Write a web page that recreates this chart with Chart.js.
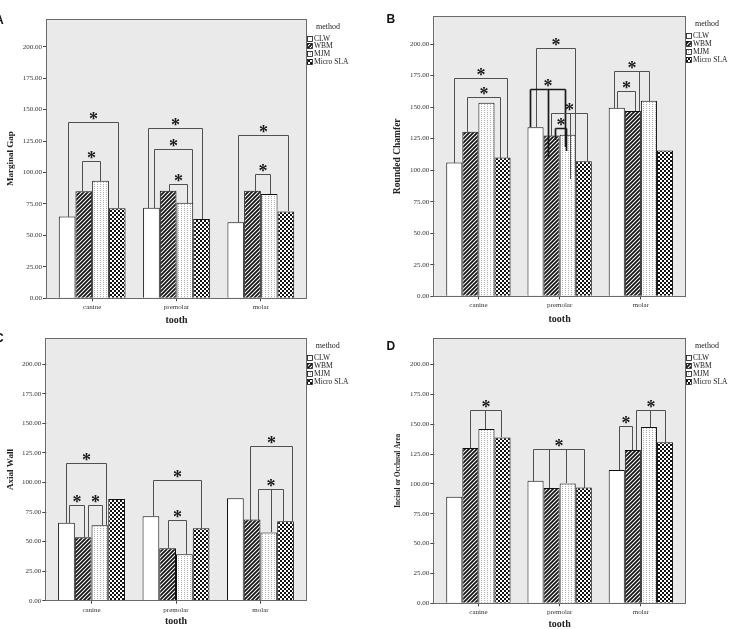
<!DOCTYPE html>
<html><head><meta charset="utf-8">
<script src="https://cdn.jsdelivr.net/npm/chart.js@4.4.1/dist/chart.umd.min.js"></script>
<style>
body{margin:0;background:#fff;width:732px;height:629px;position:relative;overflow:hidden}
.p{position:absolute}
canvas{display:block}
</style></head><body>
<div class="p" style="left:0;top:0"><canvas id="cA" width="366" height="328"></canvas></div>
<div class="p" style="left:366px;top:0"><canvas id="cB" width="366" height="328"></canvas></div>
<div class="p" style="left:0;top:328px"><canvas id="cC" width="366" height="301"></canvas></div>
<div class="p" style="left:366px;top:328px"><canvas id="cD" width="366" height="301"></canvas></div>
<script>
// ---------- data ----------
const categories = ['canine', 'premolar', 'molar'];
const methods = ['CLW', 'WBM', 'MJM', 'Micro SLA'];
const yTicks = [0, 25, 50, 75, 100, 125, 150, 175, 200];
const yMax = 222;

const marginalGapCLW   = [65, 72, 60.5];
const marginalGapWBM   = [85, 85.5, 85.5];
const marginalGapMJM   = [93.5, 76, 83];
const marginalGapMicro = [71.5, 63, 69];

const roundedChamferCLW   = [106, 134, 149.5];
const roundedChamferWBM   = [130.5, 127.5, 147];
const roundedChamferMJM   = [153.5, 128, 155];
const roundedChamferMicro = [110, 107, 115.5];

const axialWallCLW   = [66, 71.4, 86.6];
const axialWallWBM   = [53.6, 44.3, 68.6];
const axialWallMJM   = [63.8, 39.2, 57.8];
const axialWallMicro = [86, 61.2, 67.2];

const incisalCLW   = [89.2, 102.6, 111.6];
const incisalWBM   = [130, 96.5, 128.4];
const incisalMJM   = [146, 100.4, 147.7];
const incisalMicro = [139, 97, 135];

// significance brackets: [category, leg positions (series index units), bracket value, leg end values]
const marginalGapSig = [
  [0, [0.08, 3.06], 140.2, [65, 71.5]],
  [0, [0.9, 1.95], 109.2, [85, 93.5]],
  [1, [-0.2, 3.04], 135.7, [72, 63]],
  [1, [0.14, 2.42], 119, [72, 76]],
  [1, [1.04, 2.1], 91, [85.5, 76]],
  [2, [0.12, 3.14], 129.6, [60.5, 69]],
  [2, [1.16, 2.02], 98.6, [85.5, 83]]
];
const roundedChamferSig = [
  [0, [0, 3.26], 173.3, [106, 110]],
  [0, [0.81, 2.87], 158, [130.5, 110]],
  [1, [0.06, 2.46], 196.8, [134, 95]],
  [1, [-0.33, 0.75, 1.81], 164, [134, 110, 118]],
  [1, [0.98, 2.15, 3.21], 145.7, [127, 93, 107]],
  [1, [1.19, 1.9], 133.5, [124, 115]],
  [2, [-0.17, 1.41, 1.98], 179, [149.5, 147, 155]],
  [2, [0, 1.14], 163, [149.5, 147]]
];
const axialWallSig = [
  [0, [0, 2.35], 116.8, [66, 63.8]],
  [0, [0.18, 1.04], 81.3, [66, 53.6]],
  [0, [1.3, 2.15], 81.3, [53.6, 63.8]],
  [1, [0.12, 2.99], 101.9, [71.4, 61.2]],
  [1, [1.05, 2.1], 68, [44.3, 39.2]],
  [2, [0.9, 3.4], 131.2, [68.6, 67.2]],
  [2, [1.35, 2.1, 2.85], 94.2, [68.6, 57.8, 67.2]]
];
const incisalSig = [
  [0, [1.0, 1.9, 2.9], 161.9, [130, 146, 139]],
  [1, [-0.15, 0.85, 1.9, 3.0], 129.2, [102.6, 96.5, 100.4, 97]],
  [2, [0.17, 0.94], 148.5, [111.6, 128.4]],
  [2, [1.17, 2.04, 3.0], 161.9, [128.4, 147.7, 135]]
];

// ---------- patterns ----------
function makePattern(kind) {
  const c = document.createElement('canvas');
  const g = c.getContext('2d');
  if (kind === 'white') { c.width = 2; c.height = 2; g.fillStyle = '#fff'; g.fillRect(0,0,2,2); }
  else if (kind === 'stripe') {
    c.width = 4; c.height = 4;
    g.fillStyle = '#fff'; g.fillRect(0,0,4,4);
    g.strokeStyle = '#151515'; g.lineWidth = 1.8; g.lineCap = 'square';
    g.beginPath();
    g.moveTo(0,4); g.lineTo(4,0);
    g.moveTo(-1,1); g.lineTo(1,-1);
    g.moveTo(3,5); g.lineTo(5,3);
    g.stroke();
  } else if (kind === 'dots') {
    c.width = 3; c.height = 2;
    g.fillStyle = '#fff'; g.fillRect(0,0,3,2);
    g.fillStyle = '#b0b0b0'; g.fillRect(1,0,1,1);
  } else {
    c.width = 4; c.height = 4;
    g.fillStyle = '#fff'; g.fillRect(0,0,4,4);
    g.fillStyle = '#111'; g.fillRect(0,0,2,2); g.fillRect(2,2,2,2);
  }
  return document.createElement('canvas').getContext('2d').createPattern(c, 'repeat');
}
const fills = [makePattern('white'), makePattern('stripe'), makePattern('dots'), makePattern('check')];

// ---------- panels ----------
const panels = [
  { id: 'cA', letter: 'A', title: 'Marginal Gap',
    series: [marginalGapCLW, marginalGapWBM, marginalGapMJM, marginalGapMicro],
    sig: marginalGapSig, bold: [],
    L: { W: 366, plotL: 47, plotR: 306, E: 3, padTop: 19, xH: 29.7, yTitlePad: 6.5, yTitleSize: 9, xTitlePad: 3, letterX: -5, letterY: 24 } },
  { id: 'cB', letter: 'B', title: 'Rounded Chamfer',
    series: [roundedChamferCLW, roundedChamferWBM, roundedChamferMJM, roundedChamferMicro],
    sig: roundedChamferSig, bold: [3, 5],
    L: { W: 366, plotL: 68.3, plotR: 319, E: 3.5, padTop: 16.3, xH: 31.7, yTitlePad: 27, yTitleSize: 9.5, xTitlePad: 3.5, letterX: 20.5, letterY: 23 } },
  { id: 'cC', letter: 'C', title: 'Axial Wall',
    series: [axialWallCLW, axialWallWBM, axialWallMJM, axialWallMicro],
    sig: axialWallSig, bold: [],
    L: { W: 366, plotL: 46.3, plotR: 305.7, E: 3, padTop: 10.3, xH: 28.3, yTitlePad: 6.5, yTitleSize: 9, xTitlePad: 2.3, letterX: -5, letterY: 14 } },
  { id: 'cD', letter: 'D', title: 'Incisal or Occlusal Area',
    series: [incisalCLW, incisalWBM, incisalMJM, incisalMicro],
    sig: incisalSig, bold: [],
    L: { W: 366, plotL: 68.3, plotR: 319, E: 3.5, padTop: 10.3, xH: 25.7, yTitlePad: 29, yTitleSize: 7.2, xTitlePad: 0, letterX: 20.5, letterY: 22 } }
];

function decorPlugin(P) {
  const E = P.L.E;
  return {
    id: 'decor',
    beforeDatasetsDraw(chart) {
      const { ctx, chartArea: a } = chart;
      ctx.save();
      ctx.fillStyle = '#EAEAEA';
      ctx.fillRect(a.left - E, a.top, a.right - a.left + 2 * E, a.bottom - a.top);
      ctx.restore();
    },
    afterDatasetsDraw(chart) {
      const { ctx, chartArea: a } = chart;
      const ys = chart.scales.y;
      ctx.save();
      P.sig.forEach((b, k) => {
        const [cat, legs, yv, ends] = b;
        const m0 = chart.getDatasetMeta(0).data[cat];
        const m1 = chart.getDatasetMeta(1).data[cat];
        const sp = m1.x - m0.x;
        const xs = legs.map(s => Math.round(m0.x + s * sp) + 0.5);
        const yl = Math.round(ys.getPixelForValue(yv)) + 0.5;
        const bold = P.bold.includes(k);
        ctx.strokeStyle = bold ? '#1a1a1a' : '#505050';
        ctx.lineWidth = bold ? 1.7 : 1;
        ctx.beginPath();
        ctx.moveTo(xs[0], yl); ctx.lineTo(xs[xs.length - 1], yl);
        xs.forEach((x, i) => { ctx.moveTo(x, yl); ctx.lineTo(x, Math.round(ys.getPixelForValue(ends[i]))); });
        ctx.stroke();
        ctx.fillStyle = '#1a1a1a';
        ctx.font = 'bold 18px "Liberation Serif"';
        ctx.textAlign = 'center';
        ctx.textBaseline = 'alphabetic';
        ctx.fillText('*', (xs[0] + xs[xs.length - 1]) / 2, yl + 2);
      });
      ctx.strokeStyle = '#6a6a6a';
      ctx.lineWidth = 1;
      const l = Math.round(a.left - E) - 0.5, r = Math.round(a.right + E) + 0.5;
      ctx.strokeRect(l, Math.round(a.top) + 0.5, r - l, Math.round(a.bottom - a.top));
      ctx.restore();
    },
    afterDraw(chart) {
      const { ctx, chartArea: a } = chart;
      const right = a.right + E;
      ctx.save();
      ctx.fillStyle = '#222';
      ctx.textBaseline = 'middle';
      ctx.textAlign = 'left';
      ctx.font = '8px "Liberation Serif"';
      ctx.fillText('method', right + 10, a.top + 8);
      ctx.font = '7.5px "Liberation Serif"';
      methods.forEach((m, i) => {
        const cy = Math.round(a.top + 19.5 + 7.9 * i);
        const bx = Math.round(right) + 1;
        ctx.fillStyle = fills[i];
        ctx.fillRect(bx, cy - 3, 5, 5);
        ctx.strokeStyle = '#111'; ctx.lineWidth = 0.8;
        ctx.strokeRect(bx + 0.5, cy - 2.5, 5, 5);
        ctx.fillStyle = '#222';
        ctx.fillText(m, bx + 7, cy);
      });
      ctx.font = 'bold 12px "Liberation Sans"';
      ctx.fillStyle = '#111';
      ctx.textBaseline = 'alphabetic';
      ctx.fillText(P.letter, P.L.letterX, P.L.letterY);
      ctx.restore();
    }
  };
}

panels.forEach(P => {
  const L = P.L;
  const yW = L.plotL + L.E;
  const padRight = L.W - L.plotR + L.E;
  new Chart(document.getElementById(P.id), {
    type: 'bar',
    data: {
      labels: categories,
      datasets: methods.map((m, i) => ({
        label: m, data: P.series[i],
        backgroundColor: fills[i], borderColor: '#111', borderWidth: 1,
        categoryPercentage: 0.792, barPercentage: 1
      }))
    },
    options: {
      responsive: false, animation: false, events: [],
      layout: { padding: { top: L.padTop, right: padRight, left: 0, bottom: 0 } },
      plugins: { legend: { display: false }, tooltip: { enabled: false } },
      scales: {
        x: {
          type: 'category', offset: true,
          grid: { display: true, offset: false, drawOnChartArea: false, tickLength: 3, color: '#444' },
          border: { display: false },
          ticks: { font: { family: 'Liberation Serif', size: 7 }, color: '#333', padding: 2, maxRotation: 0, autoSkip: false },
          title: { display: true, text: 'tooth', color: '#222',
                   font: { family: 'Liberation Serif', size: 10, weight: 'bold', lineHeight: 1 },
                   padding: { top: 0, bottom: L.xTitlePad } },
          afterFit: s => { s.height = L.xH; }
        },
        y: {
          min: 0, max: yMax,
          afterBuildTicks: s => { s.ticks = yTicks.map(v => ({ value: v })); },
          grid: { drawOnChartArea: false, tickLength: 4 + L.E, color: '#444' },
          border: { display: false },
          ticks: { font: { family: 'Liberation Serif', size: 7 }, color: '#333', padding: 1,
                   callback: v => Number(v).toFixed(2) },
          title: { display: true, text: P.title, color: '#222',
                   font: { family: 'Liberation Serif', size: L.yTitleSize, weight: 'bold', lineHeight: 1 },
                   padding: { top: L.yTitlePad, bottom: 0 } },
          afterFit: s => { s.width = yW; }
        }
      }
    },
    plugins: [decorPlugin(P)]
  });
});
</script>
</body></html>
